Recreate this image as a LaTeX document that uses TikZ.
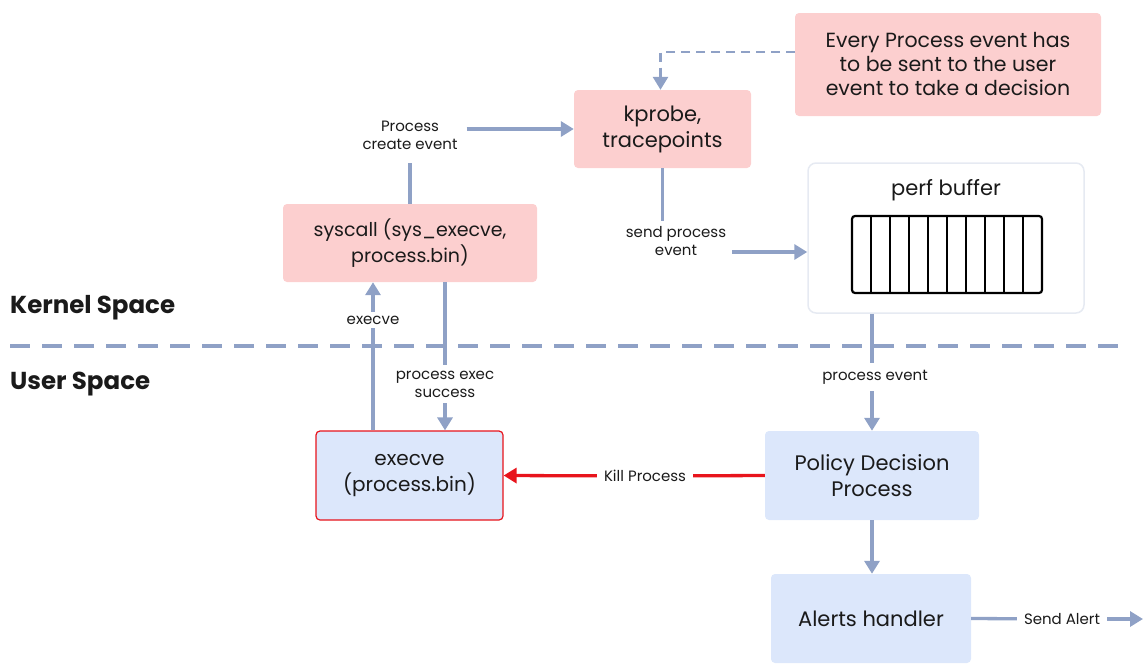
\documentclass[tikz,border=0pt]{standalone}
\usepackage{fontspec}
\setmainfont{Poppins}
\usetikzlibrary{arrows.meta}
\definecolor{pinkbox}{HTML}{FCCFCF}
\definecolor{bluebox}{HTML}{DCE7FB}
\definecolor{arrowc}{HTML}{8FA1C6}
\definecolor{killred}{HTML}{E8141C}
\definecolor{txt}{HTML}{1A1A1A}
\definecolor{perfedge}{HTML}{E6EAF2}
\begin{document}
\begin{tikzpicture}[x=1pt,y=-1pt,
  box/.style={rounded corners=4pt, inner sep=0pt, align=center, text=txt,
    font=\fontsize{21}{26}\selectfont},
  pinkb/.style={box, fill=pinkbox},
  blueb/.style={box, fill=bluebox},
  lbl/.style={font=\fontsize{15}{18}\selectfont, align=center, text=txt,
    inner xsep=7pt, inner ysep=5pt},
  ln/.style={draw=arrowc, line width=3.3pt},
  arr/.style={ln, -{Triangle[length=13pt,width=15pt]}},
  redln/.style={draw=killred, line width=3.3pt},
  redarr/.style={redln, -{Triangle[length=13pt,width=15pt]}},
  space/.style={font=\fontsize{24.5}{28}\selectfont\bfseries, text=txt, anchor=west, inner sep=0pt}
]
\useasboundingbox (0,0) rectangle (1143,664);

% divider
\draw[arrowc, line width=3.3pt, dash pattern=on 20pt off 12pt] (10,346) -- (1125,346);
\node[space] (ks) at (10,308) {Kernel Space};
\node[space] (us) at (10,384) {User Space};

% boxes
\node[pinkb, font=\fontsize{19}{26}\selectfont, minimum width=254pt, minimum height=78pt] (syscall) at (410,243) {syscall (sys\_execve,\\process.bin)};
\node[pinkb, minimum width=177pt, minimum height=78pt] (kprobe) at (662.5,129) {kprobe,\\tracepoints};
\node[pinkb, font=\fontsize{20.5}{24}\selectfont, minimum width=306pt, minimum height=103pt] (note) at (948,64.5) {Every Process event has\\to be sent to the user\\event to take a decision};
\node[box, fill=white, draw=perfedge, line width=1.5pt, rounded corners=8pt, minimum width=276pt, minimum height=150pt] (perf) at (946,238) {};
\node[box, anchor=center] (perft) at (946,190) {perf buffer};
\node[blueb, font=\fontsize{20}{26}\selectfont, draw=killred, line width=1.2pt, minimum width=187pt, minimum height=89pt] (execve) at (409.5,475.5) {execve\\(process.bin)};
\node[blueb, minimum width=214pt, minimum height=89pt] (policy) at (872,475.5) {Policy Decision\\Process};
\node[blueb, minimum width=200pt, minimum height=89pt] (alerts) at (871,618.5) {Alerts handler};

% perf buffer cells
\draw[line width=2.2pt, rounded corners=3pt] (852,216) rectangle (1042,293);
\foreach \k in {1,...,9} \draw[line width=1.8pt] (852+19*\k,216) -- (852+19*\k,293);

% Process create event
\node[lbl, inner xsep=9pt, inner ysep=14pt] (pc) at (410,135) {Process\\create event};
\draw[ln] (syscall.north) -- (pc.south);
\draw[arr] (pc.east |- kprobe.west) -- (kprobe.west);

% send process event
\node[lbl, inner xsep=5pt, inner ysep=5pt] (spe) at (676,241) {send process\\event};
\draw[ln] (kprobe.south) -- (kprobe.south |- spe.north);
\coordinate (pa) at (732,252);
\draw[arr] (pa) -- (pa -| perf.west);

% dashed note arrow
\coordinate (d1) at (795,52);
\draw[arr, dash pattern=on 9pt off 6pt, line width=2.8pt] (d1) -| ([xshift=-2pt]kprobe.north);

% execve up
\node[lbl, inner ysep=4pt] (ex) at (373,320) {execve};
\draw[ln] (execve.north -| ex) -- (ex);
\draw[arr] (ex) -- (syscall.south -| ex);

% process exec success
\node[lbl, inner ysep=6pt] (pes) at (445,384) {process exec\\success};
\draw[ln] (syscall.south -| pes) -- (pes);
\draw[arr] (pes) -- (execve.north -| pes);

% process event
\node[lbl, inner ysep=7pt] (pe) at (875,377) {process event};
\draw[ln] (perf.south -| policy.north) -- (pe.north -| policy.north);
\draw[arr] (pe.south -| policy.north) -- (policy.north);

% kill process
\node[lbl] (kp) at (645,476) {Kill Process};
\draw[redln] (policy.west) -- (kp);
\draw[redarr] (kp) -- (execve.east);

% policy -> alerts
\draw[arr] (policy.south) -- (alerts.north -| policy.south);

% send alert
\node[lbl] (sa) at (1062,619) {Send Alert};
\coordinate (end) at (1143,619);
\draw[ln] (alerts.east) -- (sa);
\draw[arr] (sa) -- (end);
\end{tikzpicture}
\end{document}
